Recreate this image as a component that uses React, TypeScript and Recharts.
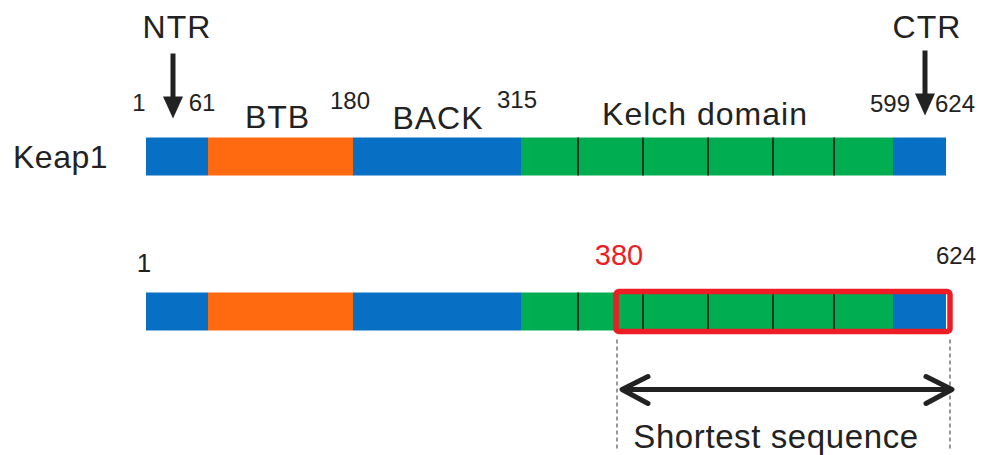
import { BarChart, Bar, XAxis, YAxis } from 'recharts';

// Keap1 domain map (drawn widths are diagram units, the picture is not to scale)
const rows = ['Keap1', ' '];
const segLengths = [62, 145, 168, 57, 65, 65, 65, 61, 59, 53];
const segKinds = ['term', 'btb', 'back', 'kelch', 'kelch', 'kelch', 'kelch', 'kelch', 'kelch', 'term'];
const boundaryLabels = ['1', '61', '180', '315', '599', '624'];
const boundaryAfterSeg = [-1, 0, 1, 2, 8, 9];
const domainLabels = ['BTB', 'BACK', 'Kelch domain'];
const domainSegs = [[1, 1], [2, 2], [3, 8]];
const terminalLabels = ['NTR', 'CTR'];
const terminalArrowX = [27, 779];
const shortestRange = [470, 804];
const shortestLabels = ['380', '624'];
const shortestTitle = 'Shortest sequence';

const BLUE = '#0870c4';
const ORANGE = '#ff690f';
const GREEN = '#00ad50';
const RED = '#ee1c25';
const INK = '#222';
const FONT = '"Liberation Sans", Arial, sans-serif';

const kindColor: Record<string, string> = { term: BLUE, btb: ORANGE, back: BLUE, kelch: GREEN };

const starts = segLengths.map((_, i) => segLengths.slice(0, i).reduce((a, b) => a + b, 0));
const ends = starts.map((s, i) => s + segLengths[i]);
const boundaryPos = boundaryAfterSeg.map((i) => (i < 0 ? 0 : ends[i]));

const data = rows.map((row, r) => {
  const d: any = { row };
  segLengths.forEach((v, i) => (d[`s${i}`] = v));
  d.span = r === 1 ? shortestRange : null;
  return d;
});

// text placement tweaks (px), relative to the bar top
const boundaryDx = [-7, -6, -3, -4, -3, 9];
const boundaryDy = [-27, -27, -29, -30, -26, -26];
const domainDx = [-3, 1, -2];
const domainDy = [-10, -9, -13];

const Txt = ({ x, y, size, color = INK, spacing = 0, children }: any) => (
  <text x={x} y={y} textAnchor="middle" fontFamily={FONT} fontSize={size} letterSpacing={spacing} fill={color}>
    {children}
  </text>
);

const DownArrow = ({ x, y1, y2 }: any) => (
  <g>
    <line x1={x} y1={y1} x2={x} y2={y2 - 18} stroke={INK} strokeWidth={5} />
    <polygon points={`${x - 10},${y2 - 22} ${x + 10},${y2 - 22} ${x},${y2}`} fill={INK} />
  </g>
);

const SegShape = (p: any) => {
  const { x, y, width, height, fill, seg } = p;
  if (!width) return null;
  const r = rows.indexOf(p.payload?.row ?? p.row);
  const k = width / segLengths[seg];
  const px = (u: number) => x + (u - starts[seg]) * k;
  const divider = segKinds[seg] === 'kelch' && segKinds[seg - 1] === 'kelch';
  return (
    <g>
      <rect x={x} y={y} width={width} height={height} fill={fill} />
      {divider && <line x1={x} y1={y} x2={x} y2={y + height} stroke="#111" strokeWidth={1.5} />}
      {seg === 0 && r === 0 && (
        <g>
          {boundaryLabels.map((t, j) => (
            <Txt key={`b${j}`} x={px(boundaryPos[j]) + boundaryDx[j]} y={y + boundaryDy[j]} size={24}>
              {t}
            </Txt>
          ))}
          {domainLabels.map((t, j) => (
            <Txt
              key={`d${j}`}
              x={px((starts[domainSegs[j][0]] + ends[domainSegs[j][1]]) / 2) + domainDx[j]}
              y={y + domainDy[j]}
              size={32}
              spacing={1}
            >
              {t}
            </Txt>
          ))}
          {terminalArrowX.map((u, j) => (
            <g key={`t${j}`}>
              <DownArrow x={px(u)} y1={y - (j === 0 ? 84 : 87)} y2={y - (j === 0 ? 19 : 22)} />
              <Txt x={px(u) + (j === 0 ? 4 : 2)} y={y - 100} size={32} spacing={1}>
                {terminalLabels[j]}
              </Txt>
            </g>
          ))}
        </g>
      )}
      {seg === 0 && r === 1 && (
        <Txt x={px(boundaryPos[0]) - 2} y={y - 21} size={26}>
          {boundaryLabels[0]}
        </Txt>
      )}
    </g>
  );
};

const SpanShape = (p: any) => {
  const { x, y, width, height } = p;
  if (!width) return null;
  const k = width / (shortestRange[1] - shortestRange[0]);
  const px = (u: number) => x + (u - shortestRange[0]) * k;
  const a = x + 6;
  const b = x + width + 2;
  const ay = y + 98;
  const dash = { stroke: '#333', strokeWidth: 1, strokeDasharray: '4 3' };
  return (
    <g>
      <rect x={x} y={y} width={width} height={height} rx={3} fill="none" stroke={RED} strokeWidth={5.5} />
      <line x1={x + 1} y1={y + 48} x2={x + 1} y2={y + 157} {...dash} />
      <line x1={x + width} y1={y + 48} x2={x + width} y2={y + 157} {...dash} />
      <g stroke={INK} strokeWidth={5} fill="none" strokeLinecap="round" strokeLinejoin="round">
        <line x1={a + 2} y1={ay} x2={b - 2} y2={ay} />
        <polyline points={`${a + 26},${ay - 13} ${a},${ay} ${a + 26},${ay + 14}`} />
        <polyline points={`${b - 26},${ay - 13} ${b},${ay} ${b - 26},${ay + 14}`} />
      </g>
      <Txt x={px(shortestRange[0]) + 3} y={y - 27} size={29} color={RED}>
        {shortestLabels[0]}
      </Txt>
      <Txt x={px(ends[ends.length - 1]) + 10} y={y - 28} size={24}>
        {shortestLabels[1]}
      </Txt>
      <Txt x={px((shortestRange[0] + shortestRange[1]) / 2) - 7} y={y + 156} size={33} spacing={0.6}>
        {shortestTitle}
      </Txt>
    </g>
  );
};

const RowTick = (p: any) => (
  <text x={13} y={p.y + 12} fontFamily={FONT} fontSize={32} fill={INK} letterSpacing={0.5}>
    {p.payload.value}
  </text>
);

export default function App() {
  const yPad = { top: 78.5, bottom: 66.5 };

  return (
    <div style={{ width: 985, height: 455, background: '#fff' }}>
      <style>{'body{margin:0}'}</style>
      <BarChart
        width={985}
        height={455}
        data={data}
        layout="vertical"
        margin={{ top: 0, right: 19, bottom: 0, left: 10 }}
      >
        <XAxis type="number" domain={[0, 820]} hide />
        <YAxis
          yAxisId="main"
          type="category"
          dataKey="row"
          width={136}
          axisLine={false}
          tickLine={false}
          tick={<RowTick />}
          padding={yPad}
        />
        <YAxis yAxisId="span" type="category" dataKey="row" hide padding={yPad} />

        {segLengths.map((_, i) => (
          <Bar
            key={`s${i}`}
            dataKey={`s${i}`}
            stackId="k"
            yAxisId="main"
            barSize={38}
            fill={kindColor[segKinds[i]]}
            isAnimationActive={false}
            shape={(p: any) => <SegShape {...p} seg={i} />}
          />
        ))}
        <Bar dataKey="span" yAxisId="span" barSize={40} isAnimationActive={false} shape={(p: any) => <SpanShape {...p} />} />
      </BarChart>
    </div>
  );
}
